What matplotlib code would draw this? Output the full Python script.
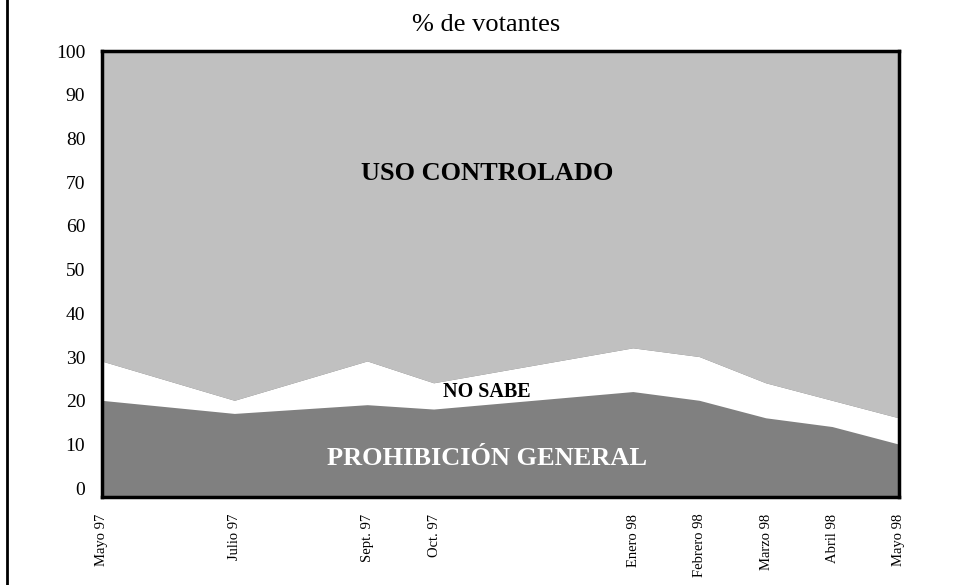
import matplotlib
matplotlib.use("Agg")
import matplotlib.pyplot as plt
import numpy as np

plt.rcParams['font.family'] = ['Liberation Serif', 'DejaVu Serif']

# ---- data ----
fechas = ["1997-05", "1997-07", "1997-09", "1997-10", "1998-01",
          "1998-02", "1998-03", "1998-04", "1998-05"]
etiquetas = ["Mayo 97", "Julio 97", "Sept. 97", "Oct. 97", "Enero 98",
             "Febrero 98", "Marzo 98", "Abril 98", "Mayo 98"]
prohibicion = [20, 17, 19, 18, 22, 20, 16, 14, 10]
no_sabe = [9, 3, 10, 6, 10, 10, 8, 6, 6]
uso_controlado = [71, 80, 71, 76, 68, 70, 76, 80, 84]

# month index relative to the first survey
x = np.array([(int(f[:4]) - 1997) * 12 + int(f[5:]) - 5 for f in fechas])

fig = plt.figure(figsize=(9.6, 5.85), dpi=100)
ax = fig.add_axes([102 / 960, (585 - 497) / 585, (899 - 102) / 960, (497 - 51) / 585])

ax.set_facecolor('#808080')
ax.stackplot(x, prohibicion, no_sabe, uso_controlado,
             colors=['#808080', '#ffffff', '#c0c0c0'], linewidth=0)

ax.set_xlim(x[0], x[-1])
ax.set_ylim(-2, 100)
ax.set_yticks(range(0, 101, 10))
ax.set_xticks(x)
ax.set_xticklabels(etiquetas, rotation=90, fontsize=10.5)
ax.tick_params(axis='x', length=0, pad=12)
ax.tick_params(axis='y', length=0, pad=12, labelsize=14)
for s in ax.spines.values():
    s.set_linewidth(2.5)
    s.set_color('black')

ax.text(5.8, 72, "USO CONTROLADO", fontsize=19, fontweight='bold',
        ha='center', va='center', color='black')
ax.text(5.8, 22, "NO SABE", fontsize=14.5, fontweight='bold',
        ha='center', va='center', color='black')
ax.text(5.8, 6.8, "PROHIBICIÓN GENERAL", fontsize=19, fontweight='bold',
        ha='center', va='center', color='white')

fig.text(486 / 960, 1 - 25 / 585, "% de votantes", fontsize=19,
         ha='center', va='center')

# left border line of the figure
fig.add_artist(plt.Line2D([6.5 / 960, 6.5 / 960], [0, 1], color='black',
                          linewidth=2, transform=fig.transFigure))

fig.savefig("out.png", dpi=100)
